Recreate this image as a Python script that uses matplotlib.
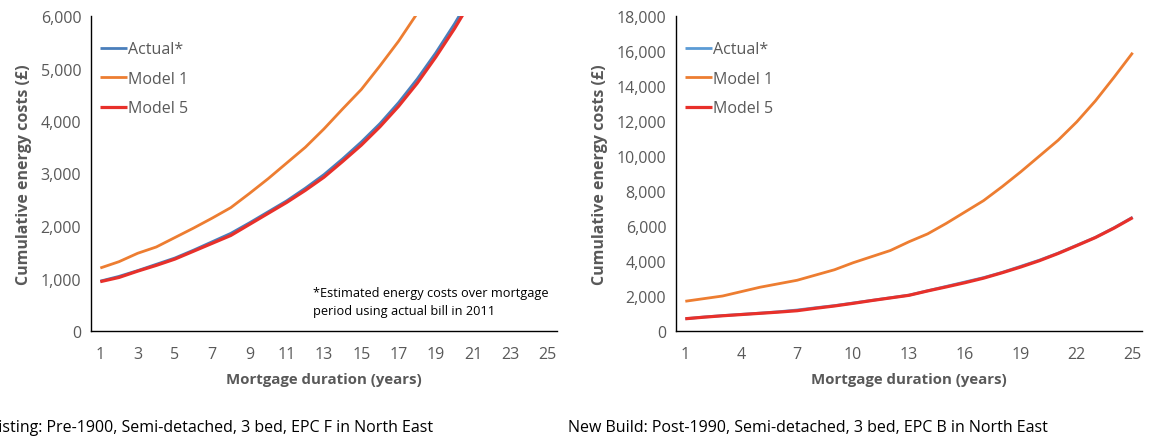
import matplotlib
matplotlib.use('Agg')
import matplotlib.pyplot as plt
import numpy as np

years = list(range(1, 26))

# Existing: Pre-1900, Semi-detached, 3 bed, EPC F in North East
left_actual = [950, 1040, 1150, 1270, 1390, 1540, 1700, 1860, 2060, 2270, 2480, 2720, 2980,
               3280, 3600, 3950, 4350, 4800, 5300, 5850, 6450, 7100, 7800, 8600, 9500]
left_model1 = [1200, 1320, 1480, 1600, 1780, 1960, 2150, 2350, 2620, 2900, 3200, 3500, 3850,
               4230, 4600, 5050, 5520, 6050, 6620, 7250, 7930, 8680, 9500, 10400, 11380]
left_model5 = [940, 1020, 1140, 1250, 1370, 1520, 1670, 1820, 2030, 2240, 2450, 2680, 2930,
               3230, 3540, 3890, 4280, 4720, 5220, 5760, 6350, 7000, 7700, 8480, 9350]

# New Build: Post-1990, Semi-detached, 3 bed, EPC B in North East
right_actual = [700, 800, 880, 950, 1020, 1100, 1200, 1330, 1450, 1600, 1750, 1900, 2050,
                2300, 2550, 2800, 3050, 3350, 3700, 4050, 4450, 4900, 5350, 5900, 6500]
right_model1 = [1700, 1850, 2000, 2250, 2500, 2700, 2900, 3200, 3500, 3900, 4250, 4600, 5100,
                5550, 6150, 6800, 7450, 8250, 9100, 10000, 10900, 11950, 13150, 14500, 15900]
right_model5 = [700, 790, 870, 940, 1010, 1080, 1160, 1300, 1430, 1580, 1740, 1890, 2040,
                2290, 2520, 2760, 3020, 3330, 3660, 4020, 4430, 4880, 5340, 5880, 6480]

series_labels = ['Actual*', 'Model 1', 'Model 5']
captions = ['Existing: Pre-1900, Semi-detached, 3 bed, EPC F in North East',
            'New Build: Post-1990, Semi-detached, 3 bed, EPC B in North East']

plt.rcParams['font.family'] = ['Open Sans', 'DejaVu Sans']
gray = '#595959'

W, H = 1151, 439
fig = plt.figure(figsize=(W / 100, H / 100), dpi=100)


def make_axes(x0, data, colors, ymax, ystep, xticks, note=False):
    ax = fig.add_axes([x0 / W, (H - 332) / H, 466 / W, 315 / H])
    for vals, c, lab, lw in zip(data, colors, series_labels, [2.0, 2.0, 2.3]):
        ax.plot(years, vals, color=c, lw=lw, label=lab, solid_capstyle='butt')
    ax.set_xlim(0.5, 25.5)
    ax.set_ylim(0, ymax)
    ax.set_yticks(np.arange(0, ymax + 1, ystep))
    ax.set_yticklabels([f'{int(v):,}' for v in np.arange(0, ymax + 1, ystep)])
    ax.set_xticks(xticks)
    ax.tick_params(length=0, labelsize=11.5, labelcolor=gray, pad=7)
    ax.tick_params(axis='x', pad=11)
    for s in ['top', 'right']:
        ax.spines[s].set_visible(False)
    for s in ['left', 'bottom']:
        ax.spines[s].set_linewidth(1.0)
        ax.spines[s].set_color('black')
    ax.set_ylabel('Cumulative energy costs (£)', fontsize=11.5, fontweight='bold',
                  color=gray, labelpad=6)
    ax.set_xlabel('Mortgage duration (years)', fontsize=10.8, fontweight='bold',
                  color=gray, labelpad=7)
    ax.legend(loc='upper left', frameon=False, fontsize=11.5, labelcolor=gray,
              handlelength=1.7, handletextpad=0.1, labelspacing=0.85,
              bbox_to_anchor=(0.005, 0.94), borderaxespad=0)
    if note:
        ax.text(0.982, 0.045, '*Estimated energy costs over mortgage\nperiod using actual bill in 2011',
                transform=ax.transAxes, ha='right', va='bottom', fontsize=9.2,
                multialignment='left', color='black', linespacing=1.45)
    return ax


make_axes(91, [left_actual, left_model1, left_model5], ['#4A7EBB', '#ED7D31', '#E8302A'],
          6000, 1000, list(range(1, 26, 2)), note=True)
make_axes(676, [right_actual, right_model1, right_model5], ['#5B9BD5', '#ED7D31', '#E8302A'],
          18000, 2000, list(range(1, 26, 3)))

fig.text(-19 / W, 1 - 428 / H, captions[0], fontsize=11.5, color='black', va='center', ha='left')
fig.text(568 / W, 1 - 428 / H, captions[1], fontsize=11.5, color='black', va='center', ha='left')

fig.savefig('out.png', dpi=100)
